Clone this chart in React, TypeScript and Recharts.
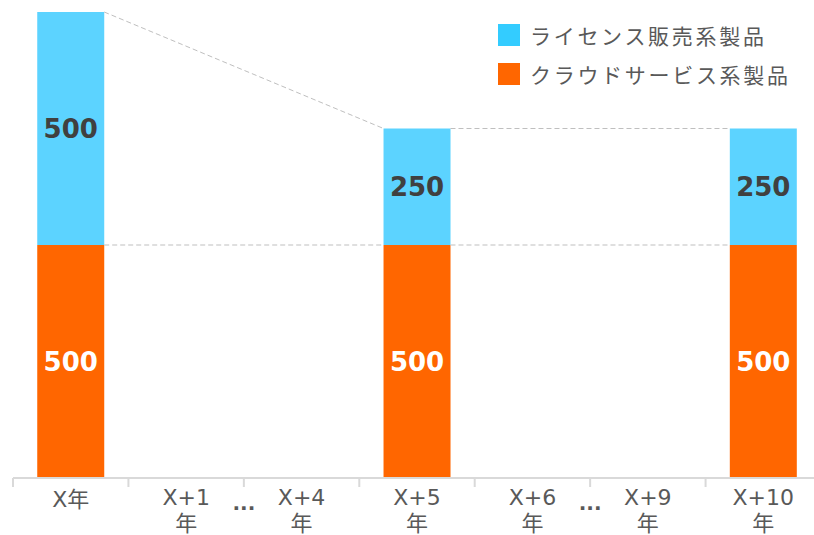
import React from "react";
import {
  ComposedChart, Bar, XAxis, YAxis, LabelList, ReferenceLine, Legend,
} from "recharts";

const categories = ["X年", "X+1年", "X+4年", "X+5年", "X+6年", "X+9年", "X+10年"];
const tickLabels = [["X年"], ["X+1", "年"], ["X+4", "年"], ["X+5", "年"], ["X+6", "年"], ["X+9", "年"], ["X+10", "年"]];
const cloudValues = [500, null, null, 500, null, null, 500];
const licenseValues = [500, null, null, 250, null, null, 250];
// boundaries (index of category before the gap) where years are skipped
const skipAfter = [1, 4];

const SERIES = [
  { key: "license", name: "ライセンス販売系製品", color: "#5CD3FF", legend: "#33CCFF", label: "#404040" },
  { key: "cloud", name: "クラウドサービス系製品", color: "#FF6600", legend: "#FF6600", label: "#FFFFFF" },
];

const GAP = 0.21;
const GREY = "#595959";
const LINE = "#D9D9D9";
const LATIN = "'DejaVu Sans', 'Noto Sans CJK JP', sans-serif";
const CJK = "'Noto Sans CJK JP', sans-serif";

// pos: centre of each category slot on a 0..n linear axis
const data = categories.map((name, i) => ({
  name,
  pos: i + 0.5,
  cloud: cloudValues[i],
  license: licenseValues[i],
}));

// dashed connectors between neighbouring bars
const barIdx = data.map((d, i) => (d.cloud != null ? i : -1)).filter((i) => i >= 0);
const connectors: { x1: number; y1: number; x2: number; y2: number }[] = [];
for (let k = 0; k + 1 < barIdx.length; k++) {
  const a = barIdx[k], b = barIdx[k + 1];
  const ta = (cloudValues[a] ?? 0) + (licenseValues[a] ?? 0);
  const tb = (cloudValues[b] ?? 0) + (licenseValues[b] ?? 0);
  connectors.push({ x1: a + 1 - GAP, y1: ta, x2: b + GAP, y2: tb });
  connectors.push({ x1: a + 1 - GAP, y1: cloudValues[a] ?? 0, x2: b + GAP, y2: cloudValues[b] ?? 0 });
}

const axisTicks: number[] = [];
for (let i = 0; i <= categories.length * 2; i++) axisTicks.push(i / 2);

function AxisTick(props: any) {
  const { x, y, payload } = props;
  const v = payload.value as number;
  if (Number.isInteger(v)) {
    return (
      <g>
        <line x1={x} x2={x} y1={y} y2={y + 9} stroke={LINE} strokeWidth={2} />
        {skipAfter.includes(v - 1) && (
          <text x={x} y={y + 32} textAnchor="middle" fontSize={20} fontWeight="bold"
            fill={GREY} fontFamily={LATIN}>...</text>
        )}
      </g>
    );
  }
  const lines = tickLabels[Math.floor(v)];
  if (lines.length === 1) {
    return (
      <text x={x} y={y + 29} textAnchor="middle" fontSize={22} fill={GREY} fontFamily={LATIN}>
        {lines[0]}
      </text>
    );
  }
  return (
    <text textAnchor="middle" fontSize={22} fill={GREY} fontFamily={LATIN}>
      <tspan x={x} y={y + 27}>{lines[0]}</tspan>
      <tspan x={x} y={y + 53}>{lines[1]}</tspan>
    </text>
  );
}

function LegendBox() {
  return (
    <div style={{ fontFamily: CJK }}>
      {SERIES.map((s) => (
        <div key={s.key} style={{ display: "flex", alignItems: "center", height: 39 }}>
          <span style={{ width: 22, height: 22, background: s.legend, marginRight: 10 }} />
          <span style={{ fontSize: 21, letterSpacing: 2.7, color: GREY, whiteSpace: "nowrap" }}>
            {s.name}
          </span>
        </div>
      ))}
    </div>
  );
}

export default function App() {
  return (
    <div style={{ position: "absolute", left: 0, top: 0, width: 814, height: 535, overflow: "hidden", background: "#fff" }}>
      <ComposedChart
        width={821}
        height={535}
        data={data}
        margin={{ top: 12, right: 0, left: 13, bottom: 0 }}
        barCategoryGap={`${GAP * 100}%`}
      >
        <XAxis xAxisId="cat" dataKey="name" hide height={0} />
        <XAxis
          xAxisId="num"
          dataKey="pos"
          type="number"
          domain={[0, categories.length]}
          allowDataOverflow
          ticks={axisTicks}
          interval={0}
          height={57}
          tickSize={0}
          tickMargin={0}
          tickLine={false}
          axisLine={{ stroke: LINE, strokeWidth: 2 }}
          tick={<AxisTick />}
        />
        <YAxis hide domain={[0, 1000]} />
        <Legend
          layout="horizontal"
          verticalAlign="middle"
          align="center"
          content={<LegendBox />}
          wrapperStyle={{ top: 15, left: 498, width: 320 }}
        />
        {connectors.map((c, i) => (
          <ReferenceLine
            key={i}
            xAxisId="num"
            segment={[{ x: c.x1, y: c.y1 }, { x: c.x2, y: c.y2 }]}
            stroke="#BFBFBF"
            strokeDasharray="5 3"
            strokeWidth={1}
          />
        ))}
        {[...SERIES].reverse().map((s) => (
          <Bar
            key={s.key}
            xAxisId="cat"
            dataKey={s.key}
            name={s.name}
            stackId="a"
            fill={s.color}
            isAnimationActive={false}
          >
            <LabelList
              dataKey={s.key}
              position="center"
              formatter={(v: any) => (v == null ? "" : v)}
              fill={s.label}
              fontSize={26}
              fontWeight="bold"
              fontFamily={LATIN}
            />
          </Bar>
        ))}
      </ComposedChart>
    </div>
  );
}
